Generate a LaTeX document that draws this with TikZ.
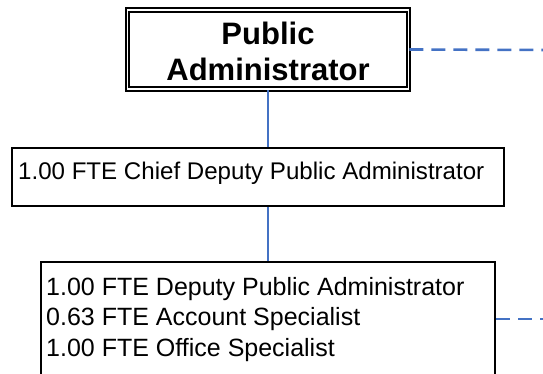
\documentclass[tikz,border=0pt]{standalone}
\usepackage{fontspec}
\setmainfont{Liberation Sans}
\definecolor{lineblue}{HTML}{4472C4}
\tikzset{
  box/.style={draw=black, line width=2.8pt, fill=white, inner sep=0pt},
  titlebox/.style={draw=black, double=white, double distance=1.8pt, line width=1.8pt, fill=white, inner sep=0pt},
  solidlink/.style={draw=lineblue, line width=2pt},
  dashlink/.style={draw=lineblue, line width=2.6pt, dash pattern=on 14pt off 8pt},
  rowtext/.style={anchor=base west, inner sep=0pt, font=\fontsize{25}{30}\selectfont},
  titletext/.style={anchor=base, inner sep=0pt, font=\fontsize{31}{36}\selectfont\bfseries},
}
\begin{document}
\begin{tikzpicture}[x=1pt,y=-1pt]
\useasboundingbox (0,0) rectangle (543,374);
\node[titlebox, minimum width=281pt, minimum height=79pt] (pa) at (268,49.5) {};
\node[titletext] (patext1) at (268,45) {Public};
\node[titletext] (patext2) at (268,81) {Administrator};
\node[box, minimum width=492pt, minimum height=58pt] (cdpa) at (258,177) {};
\node[rowtext, font=\fontsize{24.1}{30}\selectfont] (cdpatext) at (18,180) {1.00 FTE Chief Deputy Public Administrator};
\node[box, minimum width=454pt, minimum height=114pt] (dpa) at (268,319) {};
\node[rowtext] (r1) at (46,295) {1.00 FTE Deputy Public Administrator};
\node[rowtext] (r2) at (46,325) {0.63 FTE Account Specialist};
\node[rowtext] (r3) at (46,356) {1.00 FTE Office Specialist};
\coordinate (e1) at (548,50);
\coordinate (e2) at (548,319);
\draw[solidlink] (pa.south) -- (pa.south |- cdpa.north);
\draw[solidlink] (dpa.north |- cdpa.south) -- (dpa.north);
\draw[dashlink] (pa.east) -- (e1);
\draw[dashlink] (dpa.east) -- (e2);
\end{tikzpicture}
\end{document}
